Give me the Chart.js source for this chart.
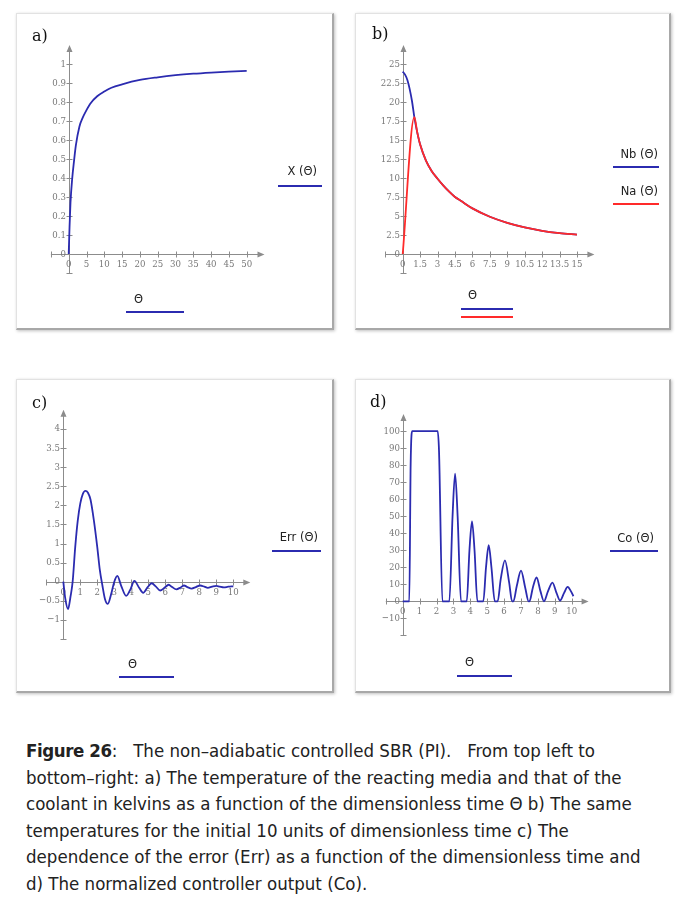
<!DOCTYPE html>
<html>
<head>
<meta charset="utf-8">
<script src="https://cdn.jsdelivr.net/npm/chart.js@4.4.1/dist/chart.umd.min.js"></script>
<style>
  html, body { margin: 0; padding: 0; background: #fff; }
  body { width: 700px; height: 908px; position: relative; overflow: hidden; }
  .panel {
    position: absolute; box-sizing: border-box; background: #fff;
    border-top: 1px solid #e2e2e2; border-left: 1px solid #e2e2e2;
    border-right: 2px solid #a8a8a8; border-bottom: 2px solid #a8a8a8;
    box-shadow: 1px 1px 3px rgba(0,0,0,0.25);
  }
  canvas { position: absolute; }
  .tag { position: absolute; font-family: "DejaVu Serif", serif; font-size: 16px; color: #111; line-height: 18px; }
  .lbl { position: absolute; font-family: "DejaVu Sans", sans-serif; font-size: 11.5px; color: #222; line-height: 13px; white-space: nowrap; }
  .key { position: absolute; height: 2px; }
  #caption {
    position: absolute; left: 26px; top: 738px;
    font-family: "DejaVu Sans Condensed", "Liberation Sans Narrow", "Roboto", sans-serif;
    font-size: 18.5px; line-height: 26.6px; color: #222; white-space: nowrap;
  }
</style>
</head>
<body>
<div class="panel" style="left:16px;top:13px;width:318px;height:317px"></div>
<div class="panel" style="left:355px;top:13px;width:316px;height:317px"></div>
<div class="panel" style="left:16px;top:379px;width:318px;height:314px"></div>
<div class="panel" style="left:355px;top:379px;width:316px;height:314px"></div>

<canvas id="chartA" width="318" height="317" style="left:16px;top:13px"></canvas>
<canvas id="chartB" width="316" height="317" style="left:355px;top:13px"></canvas>
<canvas id="chartC" width="318" height="314" style="left:16px;top:379px"></canvas>
<canvas id="chartD" width="316" height="314" style="left:355px;top:379px"></canvas>

<div class="tag" style="left:32px;top:27px">a)</div>
<div class="tag" style="left:372px;top:25px">b)</div>
<div class="tag" style="left:32px;top:394px">c)</div>
<div class="tag" style="left:370px;top:393px">d)</div>

<div class="lbl" style="right:383px;top:165px">X (Θ)</div>
<div class="key" style="left:278px;top:185px;width:44px;background:#2b2bb0"></div>
<div class="lbl" style="left:134px;top:293px">Θ</div>
<div class="key" style="left:126px;top:311px;width:58px;background:#2b2bb0"></div>

<div class="lbl" style="right:42px;top:148px">Nb (Θ)</div>
<div class="key" style="left:613px;top:166px;width:46px;background:#2b2bb0"></div>
<div class="lbl" style="right:42px;top:185px">Na (Θ)</div>
<div class="key" style="left:613px;top:203px;width:46px;background:#ff2a2a"></div>
<div class="lbl" style="left:468px;top:289px">Θ</div>
<div class="key" style="left:461px;top:308px;width:52px;background:#2b2bb0"></div>
<div class="key" style="left:461px;top:316px;width:52px;background:#ff2a2a"></div>

<div class="lbl" style="right:382px;top:531px">Err (Θ)</div>
<div class="key" style="left:272px;top:550px;width:49px;background:#2b2bb0"></div>
<div class="lbl" style="left:128px;top:658px">Θ</div>
<div class="key" style="left:119px;top:676px;width:55px;background:#2b2bb0"></div>

<div class="lbl" style="right:46px;top:532px">Co (Θ)</div>
<div class="key" style="left:610px;top:550px;width:48px;background:#2b2bb0"></div>
<div class="lbl" style="left:465px;top:656px">Θ</div>
<div class="key" style="left:457px;top:675px;width:55px;background:#2b2bb0"></div>

<div id="caption"><b style="letter-spacing:-0.4px">Figure 26</b>:&nbsp;&nbsp; The non–adiabatic controlled SBR (PI).&nbsp;&nbsp; From top left to<br>bottom–right: a) The temperature of the reacting media and that of the<br>coolant in kelvins as a function of the dimensionless time Θ b) The same<br>temperatures for the initial 10 units of dimensionless time c) The<br>dependence of the error (Err) as a function of the dimensionless time and<br>d) The normalized controller output (Co).</div>

<script>
// a) X(Θ)
var thetaA = [0, 0.25, 0.5, 1, 1.5, 2, 3, 4, 5, 6, 8, 10, 12, 15, 20, 25, 30, 35, 40, 45, 50];
var convA = [0, 0.15, 0.27, 0.4, 0.49, 0.57, 0.67, 0.72, 0.757, 0.79, 0.83, 0.855, 0.875, 0.893, 0.916, 0.93, 0.941, 0.949, 0.955, 0.96, 0.964];
var xTicksA = [0, 5, 10, 15, 20, 25, 30, 35, 40, 45, 50];
var yTicksA = [0, 0.1, 0.2, 0.3, 0.4, 0.5, 0.6, 0.7, 0.8, 0.9, 1];

// b) Nb(Θ), Na(Θ)
var thetaNb = [0, 0.2, 0.4, 0.6, 0.8, 1, 1.25, 1.5, 2, 2.5, 3, 3.5, 4, 4.5, 5, 6, 7.5, 9, 10.5, 12, 13.5, 15];
var nb = [24, 23.6, 22.9, 21.7, 20.1, 18, 16, 14.4, 12.3, 10.9, 9.9, 9.0, 8.2, 7.5, 7.0, 6.0, 4.9, 4.1, 3.5, 3.05, 2.75, 2.55];
var thetaNa = [0, 1, 1.25, 1.5, 2, 2.5, 3, 3.5, 4, 4.5, 5, 6, 7.5, 9, 10.5, 12, 13.5, 15];
var na = [0, 18, 16, 14.4, 12.3, 10.9, 9.9, 9.0, 8.2, 7.5, 7.0, 6.0, 4.9, 4.1, 3.5, 3.05, 2.75, 2.55];
var xTicksB = [0, 1.5, 3, 4.5, 6, 7.5, 9, 10.5, 12, 13.5, 15];
var yTicksB = [0, 2.5, 5, 7.5, 10, 12.5, 15, 17.5, 20, 22.5, 25];

// c) Err(Θ)
var thetaC = [0, 0.12, 0.28, 0.42, 0.55, 0.7, 0.85, 1.0, 1.15, 1.3, 1.45, 1.6, 1.8, 2.0, 2.15, 2.3, 2.45, 2.62, 2.8, 3.0, 3.18,
  3.4, 3.7, 3.95, 4.18, 4.45, 4.7, 4.95, 5.2, 5.45, 5.7, 5.95, 6.2, 6.4, 6.65, 6.9, 7.1, 7.3, 7.55, 7.8, 8.05, 8.3, 8.5,
  8.75, 9.0, 9.2, 9.45, 9.7, 10];
var errC = [0, -0.45, -0.72, -0.4, 0, 0.9, 1.6, 2.05, 2.3, 2.38, 2.33, 2.15, 1.6, 0.9, 0.3, -0.1, -0.45, -0.58, -0.35, 0.0, 0.15,
  -0.1, -0.37, -0.2, 0.02, -0.15, -0.29, -0.15, -0.04, -0.13, -0.23, -0.16, -0.08, -0.14, -0.2, -0.15, -0.1, -0.14, -0.18, -0.14, -0.1, -0.13, -0.16,
  -0.13, -0.11, -0.13, -0.15, -0.13, -0.12];
var xTicksC = [0, 1, 2, 3, 4, 5, 6, 7, 8, 9, 10];
var yTicksC = [-1, -0.5, 0, 0.5, 1, 1.5, 2, 2.5, 3, 3.5, 4];

// d) Co(Θ)
var thetaD = [0, 0.39, 0.47, 0.57, 2.07, 2.15, 2.35, 2.76, 2.95, 3.1, 3.25, 3.45, 3.79, 3.95, 4.1, 4.25, 4.42, 4.77, 4.93, 5.09,
  5.25, 5.45, 5.62, 5.8, 6.05, 6.3, 6.47, 6.55, 6.75, 7.0, 7.25, 7.45, 7.5, 7.7, 7.92, 8.15, 8.36, 8.6, 8.86, 9.1, 9.31,
  9.55, 9.76, 9.95, 10.1];
var coD = [0, 0, 80, 100, 100, 88, 0, 0, 50, 75, 50, 0, 0, 30, 47, 30, 0, 0, 20, 33,
  20, 0, 0, 13, 24, 11, 0, 0, 9, 18, 8, 0, 0, 8, 14, 6, 0, 6, 11, 5, 0.5,
  5, 8.5, 6, 3];
var xTicksD = [0, 1, 2, 3, 4, 5, 6, 7, 8, 9, 10];
var yTicksD = [-10, 0, 10, 20, 30, 40, 50, 60, 70, 80, 90, 100];

var BLUE = '#2b2bb0';
var RED = '#ff2a2a';
var AXIS = '#8c8c8c';

function pairs(xs, ys) {
    return xs.map(function (v, i) { return { x: v, y: ys[i] }; });
}

function fmt(v) {
    return String(v).replace('-', '\u2212');
}

// narrow serif label (the original uses a condensed face)
function label(ctx, text, x, y) {
    ctx.save();
    ctx.translate(x, y);
    ctx.scale(0.86, 1);
    ctx.fillText(text, 0, 0);
    ctx.restore();
}

// Mathcad style crossed axes, drawn through the chart's own scales
var crossAxes = {
    id: 'crossAxes',
    beforeDatasetsDraw: function (chart, args, opts) {
        var ctx = chart.ctx;
        var xs = chart.scales.x, ys = chart.scales.y;
        var x0 = Math.round(xs.getPixelForValue(0)) + 0.5;
        var y0 = Math.round(ys.getPixelForValue(0)) + 0.5;
        var left = xs.getPixelForValue(xs.min), right = xs.getPixelForValue(xs.max);
        var top = ys.getPixelForValue(ys.max), bottom = ys.getPixelForValue(ys.min);
        ctx.save();
        ctx.strokeStyle = AXIS;
        ctx.fillStyle = AXIS;
        ctx.lineWidth = 1;
        ctx.beginPath();
        ctx.moveTo(left, y0); ctx.lineTo(right - 5, y0);
        ctx.moveTo(x0, bottom); ctx.lineTo(x0, top + 5);
        // end ticks
        ctx.moveTo(Math.round(left) + 0.5, y0 - 3); ctx.lineTo(Math.round(left) + 0.5, y0 + 3);
        ctx.moveTo(x0 - 3, Math.round(bottom) + 0.5); ctx.lineTo(x0 + 3, Math.round(bottom) + 0.5);
        opts.xTicks.forEach(function (v) {
            var px = Math.round(xs.getPixelForValue(v)) + 0.5;
            ctx.moveTo(px, y0 - 3); ctx.lineTo(px, y0 + 3);
        });
        opts.yTicks.forEach(function (v) {
            var py = Math.round(ys.getPixelForValue(v)) + 0.5;
            ctx.moveTo(x0 - 3, py); ctx.lineTo(x0 + 3, py);
        });
        ctx.stroke();
        // arrow heads
        ctx.beginPath();
        ctx.moveTo(right, y0); ctx.lineTo(right - 7, y0 - 3); ctx.lineTo(right - 7, y0 + 3); ctx.closePath();
        ctx.moveTo(x0, top); ctx.lineTo(x0 - 3, top + 7); ctx.lineTo(x0 + 3, top + 7); ctx.closePath();
        ctx.fill();
        // tick labels
        ctx.font = '10px "DejaVu Serif"';
        ctx.fillStyle = '#787878';
        ctx.textAlign = 'center';
        ctx.textBaseline = 'top';
        opts.xTicks.forEach(function (v) {
            label(ctx, fmt(v), xs.getPixelForValue(v), y0 + 5);
        });
        ctx.textAlign = 'right';
        ctx.textBaseline = 'middle';
        opts.yTicks.forEach(function (v) {
            label(ctx, fmt(v), x0 - 3.5, ys.getPixelForValue(v));
        });
        ctx.restore();
    }
};

function makeChart(id, datasets, xr, yr, pad, xTicks, yTicks) {
    var el = document.getElementById(id);
    if (!el) return;
    new Chart(el.getContext('2d'), {
        type: 'scatter',
        data: { datasets: datasets },
        options: {
            responsive: false,
            animation: false,
            devicePixelRatio: 1,
            layout: { padding: pad },
            plugins: {
                legend: { display: false },
                tooltip: { enabled: false },
                crossAxes: { xTicks: xTicks, yTicks: yTicks }
            },
            scales: {
                x: { type: 'linear', min: xr[0], max: xr[1], display: false },
                y: { type: 'linear', min: yr[0], max: yr[1], display: false }
            }
        },
        plugins: [crossAxes]
    });
}

function line(xs, ys, color, order) {
    return {
        data: pairs(xs, ys),
        showLine: true,
        borderColor: color,
        borderWidth: 1.8,
        pointRadius: 0,
        cubicInterpolationMode: 'monotone',
        order: order || 0
    };
}

makeChart('chartA', [line(thetaA, convA, BLUE)], [-5, 55], [-0.1, 1.1],
    { left: 34.9, top: 32, right: 69.5, bottom: 57 }, xTicksA, yTicksA);

makeChart('chartB', [line(thetaNa, na, RED, 0), line(thetaNb, nb, BLUE, 1)], [-1.5, 16.5], [-2.5, 27.5],
    { left: 30.3, top: 32, right: 76.6, bottom: 57 }, xTicksB, yTicksB);

makeChart('chartC', [line(thetaC, errC, BLUE)], [-1, 11], [-1.5, 4.5],
    { left: 30.3, top: 30.8, right: 83.7, bottom: 54 }, xTicksC, yTicksC);

makeChart('chartD', [line(thetaD, coD, BLUE)], [-1, 11], [-20, 110],
    { left: 30.8, top: 35, right: 82.4, bottom: 57.6 }, xTicksD, yTicksD);
</script>
</body>
</html>
